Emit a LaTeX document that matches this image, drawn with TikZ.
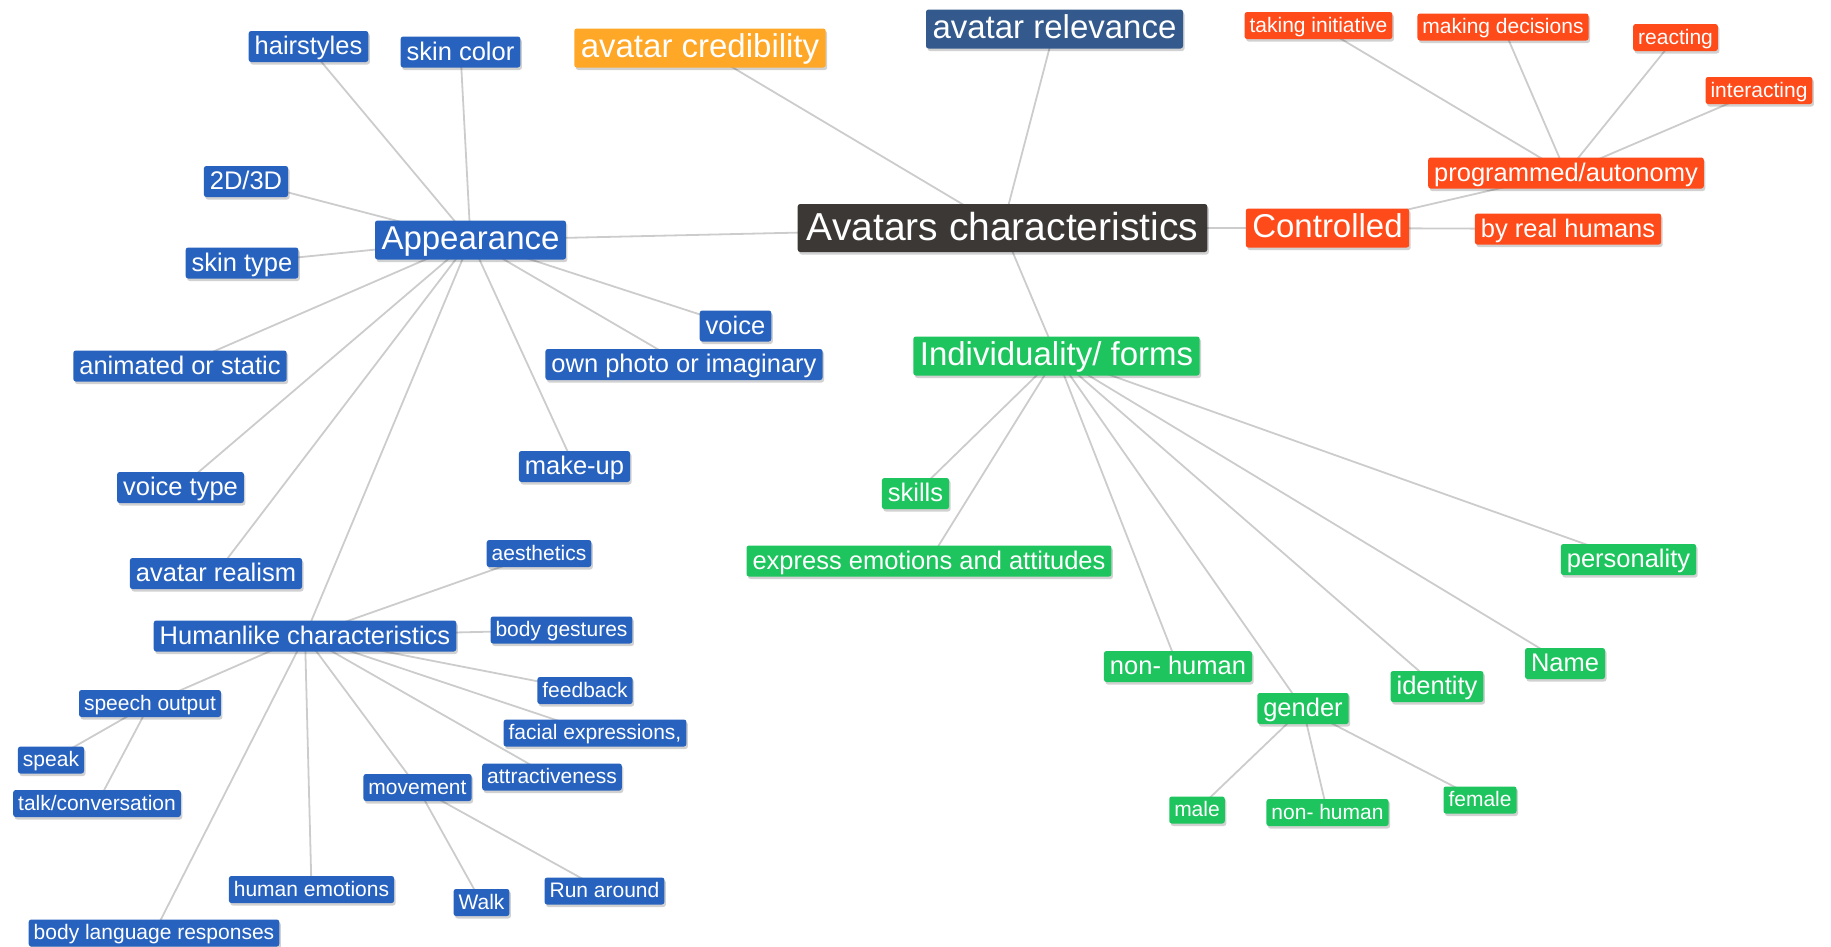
\documentclass[tikz,border=0pt]{standalone}
\usepackage{fontspec}
\setmainfont{Liberation Sans}
\usetikzlibrary{shadows,backgrounds}

\definecolor{cdark}{HTML}{3B3836}
\definecolor{cblue}{HTML}{2862BF}
\definecolor{corange}{HTML}{FFA726}
\definecolor{crel}{HTML}{34598C}
\definecolor{cred}{HTML}{FF4A1A}
\definecolor{cgreen}{HTML}{1EC45E}
\definecolor{cline}{HTML}{CCCCCC}

\tikzset{
  box/.style={rectangle, rounded corners=2.5pt, text=white, anchor=center,
    drop shadow={shadow xshift=1.5pt, shadow yshift=-2.5pt, fill=black, opacity=0.18}},
  szA/.style={font=\fontsize{39}{40}\selectfont, text height=30pt, text depth=6pt,
    inner xsep=9pt, inner ysep=6pt},
  szB/.style={font=\fontsize{33}{34}\selectfont, text height=25pt, text depth=6pt,
    inner xsep=6.5pt, inner ysep=4pt},
  szC/.style={font=\fontsize{25.5}{26}\selectfont, text height=20pt, text depth=4pt,
    inner xsep=6pt, inner ysep=3.5pt},
  szD/.style={font=\fontsize{21}{22}\selectfont, text height=16.5pt, text depth=3.5pt,
    inner xsep=5pt, inner ysep=3.5pt},
  dk/.style={box, fill=cdark},
  bl/.style={box, fill=cblue},
  og/.style={box, fill=corange},
  rv/.style={box, fill=crel},
  rd/.style={box, fill=cred},
  gr/.style={box, fill=cgreen},
  link/.style={draw=cline, line width=1.8pt},
}

\begin{document}
\begin{tikzpicture}[x=1pt, y=-1pt]
\useasboundingbox (0,0) rectangle (1831,946);

% root
\node[dk, szA] (ac) at (1002.5,228) {Avatars characteristics};

% top branches
\node[og, szB] (cred) at (700,48) {avatar credibility};
\node[rv, szB] (rel) at (1054.5,29) {avatar relevance};

% control branch
\node[rd, szB] (ctrl) at (1327.5,228) {Controlled};
\node[rd, szC] (prog) at (1566,173) {programmed/autonomy};
\node[rd, szC] (byh) at (1568,229) {by real humans};
\node[rd, szD] (take) at (1318.5,25.5) {taking initiative};
\node[rd, szD] (dec) at (1503,27) {making decisions};
\node[rd, szD] (react) at (1675.5,37.5) {reacting};
\node[rd, szD] (inter) at (1759,90.5) {interacting};

% appearance branch
\node[bl, szB] (app) at (470.5,240) {Appearance};
\node[bl, szC] (hair) at (308.5,46.5) {hairstyles};
\node[bl, szC] (skinc) at (460.5,52) {skin color};
\node[bl, szC] (dd) at (246,181.5) {2D/3D};
\node[bl, szC] (skint) at (242,263) {skin type};
\node[bl, szC] (anim) at (180,366) {animated or static};
\node[bl, szC] (voice) at (735.5,326) {voice};
\node[bl, szC] (photo) at (684,364.5) {own photo or imaginary};
\node[bl, szC] (make) at (574.5,466.5) {make-up};
\node[bl, szC] (vtype) at (180.5,487.5) {voice type};
\node[bl, szC] (realism) at (216,573.5) {avatar realism};
\node[bl, szC] (hum) at (305,636) {Humanlike characteristics};
\node[bl, szD] (aes) at (539,553.5) {aesthetics};
\node[bl, szD] (gest) at (561.5,630) {body gestures};
\node[bl, szD] (feed) at (585,690.5) {feedback};
\node[bl, szD] (facial) at (595,733) {facial expressions,};
\node[bl, szD] (attr) at (552,777) {attractiveness};
\node[bl, szD] (move) at (417.5,787.5) {movement};
\node[bl, szD] (speech) at (150,703.5) {speech output};
\node[bl, szD] (speak) at (51,760) {speak};
\node[bl, szD] (talk) at (97,803.5) {talk/conversation};
\node[bl, szD] (hemo) at (311.5,889.5) {human emotions};
\node[bl, szD] (walk) at (481.5,902.5) {Walk};
\node[bl, szD] (run) at (604.5,891) {Run around};
\node[bl, szD] (body) at (154,933) {body language responses};

% individuality branch
\node[gr, szB] (ind) at (1056.5,356) {Individuality/ forms};
\node[gr, szC] (skills) at (915.5,493.5) {skills};
\node[gr, szC] (expr) at (929,561) {express emotions and attitudes};
\node[gr, szC] (pers) at (1628.5,559.5) {personality};
\node[gr, szC] (nonh) at (1178,666.5) {non- human};
\node[gr, szC] (gender) at (1303,708.5) {gender};
\node[gr, szC] (ident) at (1437,686.5) {identity};
\node[gr, szC] (name) at (1565,663.5) {Name};
\node[gr, szD] (male) at (1197,810) {male};
\node[gr, szD] (nonhb) at (1327.5,812.5) {non- human};
\node[gr, szD] (female) at (1480,800) {female};

% connectors, drawn behind the boxes
\begin{scope}[on background layer]
  \foreach \a/\b in {ac/app, ac/cred, ac/rel, ac/ctrl, ac/ind,
      ctrl/prog, ctrl/byh, prog/take, prog/dec, prog/react, prog/inter,
      app/hair, app/skinc, app/dd, app/skint, app/anim, app/voice, app/photo,
      app/make, app/vtype, app/realism, app/hum,
      hum/aes, hum/gest, hum/feed, hum/facial, hum/attr, hum/move,
      hum/speech, hum/hemo, hum/body,
      speech/speak, speech/talk, move/walk, move/run,
      ind/skills, ind/expr, ind/pers, ind/nonh, ind/gender, ind/ident, ind/name,
      gender/male, gender/nonhb, gender/female}
    \draw[link] (\a.center) -- (\b.center);
\end{scope}
\end{tikzpicture}
\end{document}
